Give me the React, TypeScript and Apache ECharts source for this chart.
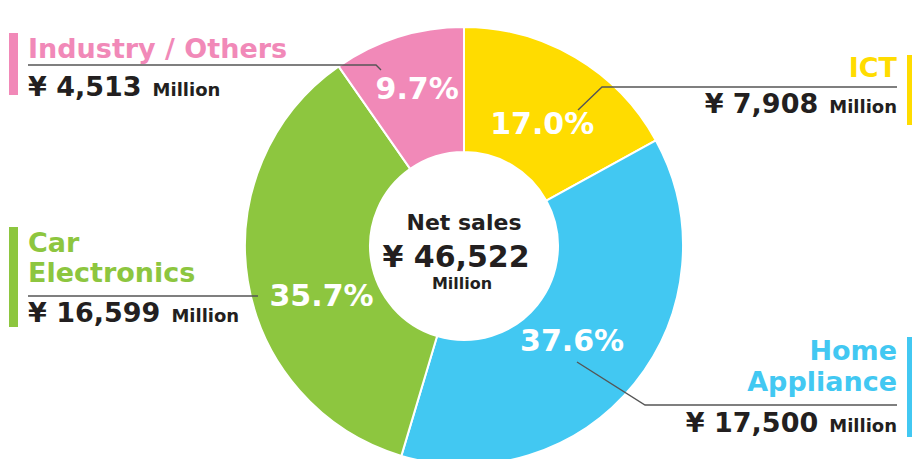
import React, { useEffect, useRef } from "react";
import * as echarts from "echarts";

const categories = ["ICT", "Home Appliance", "Car Electronics", "Industry / Others"];
const nameLines = [["ICT"], ["Home", "Appliance"], ["Car", "Electronics"], ["Industry / Others"]];
const sales = [7908, 17500, 16599, 4513];
const totalSales = 46522;
const unit = "Million";

const colors = ["#FFDC00", "#42C8F2", "#8DC63F", "#F189B8"];
const FONT = "'DejaVu Sans', Verdana, sans-serif";
const DARK = "#231F20";

const fmt = (v: number) => "¥ " + v.toLocaleString("en-US");

// percent label nudges (px) relative to the default inside position
const labelShift = [
  [-3, 15],
  [-16, -6],
  [15, 24],
  [1, -5],
];

// annotation layout (page pixels)
const layout = [
  { side: "right", nameY: [67], valueY: 103, line: [[578, 110], [602, 87], [897, 87]], bar: [907, 55, 6, 70] },
  { side: "right", nameY: [350, 381], valueY: 422, line: [[577, 362], [645, 405], [897, 405]], bar: [907, 337, 6, 100] },
  { side: "left", nameY: [242, 272], valueY: 312, line: [[258, 296], [28, 296]], bar: [9, 227, 9, 100] },
  { side: "left", nameY: [48], valueY: 86, line: [[381, 70], [376, 65], [28, 65]], bar: [9, 33, 9, 62] },
];

export default function App() {
  const ref = useRef<HTMLDivElement>(null);
  useEffect(() => {
    if (!ref.current) return;
    const chart = echarts.init(ref.current, null, { renderer: "svg" });
    const graphics: any[] = [];
    layout.forEach((l, i) => {
      const right = l.side === "right";
      const x = right ? 897 : 28;
      graphics.push({
        type: "rect",
        z: 100,
        shape: { x: l.bar[0], y: l.bar[1], width: l.bar[2], height: l.bar[3] },
        style: { fill: colors[i] },
        silent: true,
      });
      graphics.push({
        type: "polyline",
        z: 100,
        shape: { points: l.line },
        style: { stroke: "#555", lineWidth: 1.4, fill: null },
        silent: true,
      });
      nameLines[i].forEach((t, k) => {
        graphics.push({
          type: "text",
          z: 100,
          x,
          y: l.nameY[k],
          style: {
            text: t,
            fill: colors[i],
            font: `bold 27px ${FONT}`,
            align: right ? "right" : "left",
            verticalAlign: "middle",
          },
          silent: true,
        });
      });
      graphics.push({
        type: "text",
        z: 100,
        x,
        y: l.valueY + 14,
        style: {
          text: `{v|${fmt(sales[i])}}{m|${unit}}`,
          align: right ? "right" : "left",
          verticalAlign: "bottom",
          rich: {
            v: { font: `bold 27px ${FONT}`, fill: DARK, color: DARK, verticalAlign: "bottom" },
            m: { font: `bold 18px ${FONT}`, fill: DARK, color: DARK, verticalAlign: "bottom", padding: [0, 0, 2, 11] },
          },
        },
        silent: true,
      });
    });
    graphics.push(
      {
        type: "text", z: 100, x: 464, y: 222,
        style: { text: "Net sales", font: `bold 22px ${FONT}`, fill: DARK, align: "center", verticalAlign: "middle" },
      },
      {
        type: "text", z: 100, x: 456, y: 256,
        style: { text: fmt(totalSales), font: `bold 30px ${FONT}`, fill: DARK, align: "center", verticalAlign: "middle" },
      },
      {
        type: "text", z: 100, x: 462, y: 283,
        style: { text: unit, font: `bold 16px ${FONT}`, fill: DARK, align: "center", verticalAlign: "middle" },
      }
    );

    chart.setOption({
      animation: false,
      backgroundColor: "#fff",
      series: [
        {
          type: "pie",
          center: [464, 246],
          radius: [94, 219],
          startAngle: 90,
          clockwise: true,
          percentPrecision: 1,
          avoidLabelOverlap: false,
          itemStyle: { borderColor: "#fff", borderWidth: 2 },
          label: {
            show: true,
            position: "inside",
            formatter: (p: any) => p.percent.toFixed(1) + "%",
            color: "#fff",
            fontFamily: FONT,
            fontWeight: "bold",
            fontSize: 30,
          },
          labelLayout: (p: any) => ({ dx: labelShift[p.dataIndex][0], dy: labelShift[p.dataIndex][1] }),
          labelLine: { show: false },
          emphasis: { disabled: true },
          data: categories.map((c, i) => ({ name: c, value: sales[i], itemStyle: { color: colors[i] } })),
        },
      ],
      graphic: graphics,
    });
    return () => chart.dispose();
  }, []);
  return (
    <div
      ref={ref}
      style={{ position: "absolute", left: 0, top: 0, width: 912, height: 459, background: "#fff" }}
    />
  );
}
